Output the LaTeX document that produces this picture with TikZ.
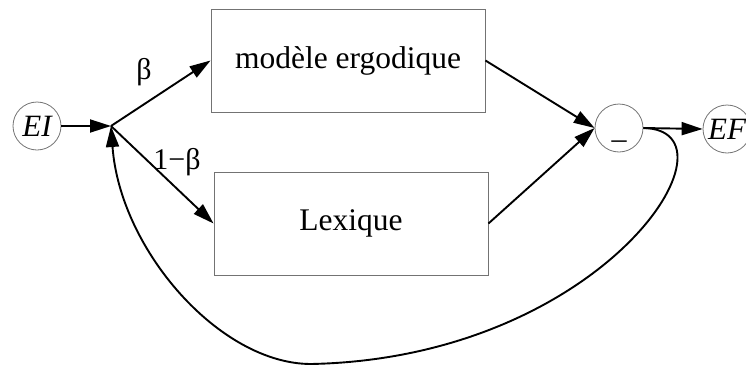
\documentclass[tikz,border=0pt]{standalone}
\usepackage{fontspec}
\setmainfont{Liberation Serif}
\usetikzlibrary{arrows.meta}
\begin{document}
\begin{tikzpicture}[x=1pt,y=-1pt,
  boxnode/.style={draw=black!55,line width=0.9pt,minimum width=274pt,minimum height=103pt,inner sep=0pt,
    font=\fontsize{31.5}{36}\selectfont},
  circnode/.style={draw=black!55,line width=0.8pt,circle,minimum size=48pt,inner sep=0pt,
    font=\fontsize{31}{34}\selectfont\itshape},
  arr/.style={line width=1.9pt,-{Triangle[length=21pt,width=13pt]}},
  lbl/.style={font=\fontsize{30}{34}\selectfont}]
\useasboundingbox (0,0) rectangle (746,367);
\node[circnode] (EI) at (37,126) {EI};
\coordinate (j) at (111,126);
\node[boxnode] (top) at (348,60.5) {modèle ergodique};
\node[boxnode] (lex) at (351,223.5) {Lexique};
\node[circnode,font=\fontsize{30}{32}\selectfont,text height=20pt,text depth=0pt] (minus) at (619,128) {\_};
\node[circnode] (EF) at (727,129) {EF};
\node[lbl] (b) at (144,72) {β};
\node[lbl] (b1) at (177,162) {1−β};
\coordinate (bot) at (311,364);
\draw[arr] (EI) -- (j);
\draw[arr] (j) -- (top.west);
\draw[arr] (j) -- (lex.west);
\draw[arr] (top.east) -- (minus.west);
\draw[arr] (lex.east) -- (minus.west);
\draw[arr] (minus.east) -- (EF.west);
\draw[arr] (minus.east) .. controls (748,130) and (605,358) .. (bot)
  .. controls (220,364) and (120,250) .. (j);
\end{tikzpicture}
\end{document}
